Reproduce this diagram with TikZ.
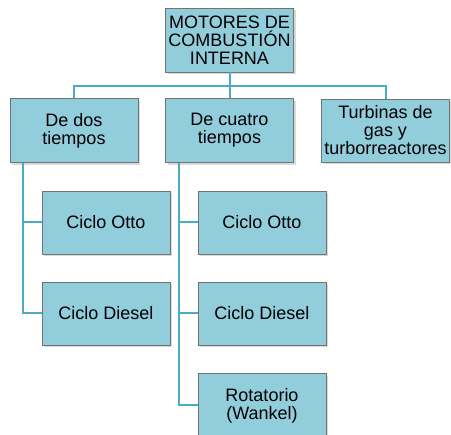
\documentclass[tikz,border=0pt]{standalone}
\usepackage{fontspec}
\setmainfont{Liberation Sans}
\usetikzlibrary{shadows}
\definecolor{cajacol}{HTML}{92CDDC}
\definecolor{lineacol}{HTML}{4BACC6}
\tikzset{
	% caja del organigrama
	caja/.style={draw=black!55, line width=0.8pt, fill=cajacol, minimum width=128pt, minimum height=64pt,
	             align=center, inner sep=0pt, font=\fontsize{18}{18}\selectfont,
	             drop shadow={shadow xshift=2pt, shadow yshift=-2.5pt, opacity=0.3}},
	% conector
	rama/.style={lineacol, line width=2pt},
}
\begin{document}
\begin{tikzpicture}[x=1pt, y=-1pt]
    \useasboundingbox (0,0) rectangle (451,435);
    % ---------------- nivel 1 ----------------
    \node[caja] (raiz) at (229.5,40) {MOTORES DE\\COMBUSTIÓN\\INTERNA};
    % ---------------- nivel 2 ----------------
    \node[caja] (dos) at (74,130.5) {De dos\\tiempos};
    \node[caja] (cuatro) at (229.5,130.5) {De cuatro\\tiempos};
    \node[caja, minimum height=63pt] (turbinas) at (385.5,130.5) {Turbinas de\\gas y\\turborreactores};
    % ---------------- nivel 3 ----------------
    \node[caja, minimum height=63pt] (otto2) at (106,222.5) {Ciclo Otto};
    \node[caja, minimum height=63pt] (diesel2) at (106,313.5) {Ciclo Diesel};
    \node[caja, minimum height=63pt] (otto4) at (262,222.5) {Ciclo Otto};
    \node[caja, minimum height=63pt] (diesel4) at (262,313.5) {Ciclo Diesel};
    \node[caja] (rotatorio) at (262,405.5) {Rotatorio\\(Wankel)};

    % ---------------- conectores ----------------
    \coordinate (barra) at (229.5,86);
    \draw[rama] (raiz.south) -- (cuatro.north);
    \draw[rama] (dos.north) |- (barra) -| (turbinas.north);
    \draw[rama] ([xshift=13pt]dos.south west) |- (otto2.west);
    \draw[rama] ([xshift=13pt]dos.south west) |- (diesel2.west);
    \draw[rama] ([xshift=14pt]cuatro.south west) |- (otto4.west);
    \draw[rama] ([xshift=14pt]cuatro.south west) |- (diesel4.west);
    \draw[rama] ([xshift=14pt]cuatro.south west) |- (rotatorio.west);
  \end{tikzpicture}
\end{document}
